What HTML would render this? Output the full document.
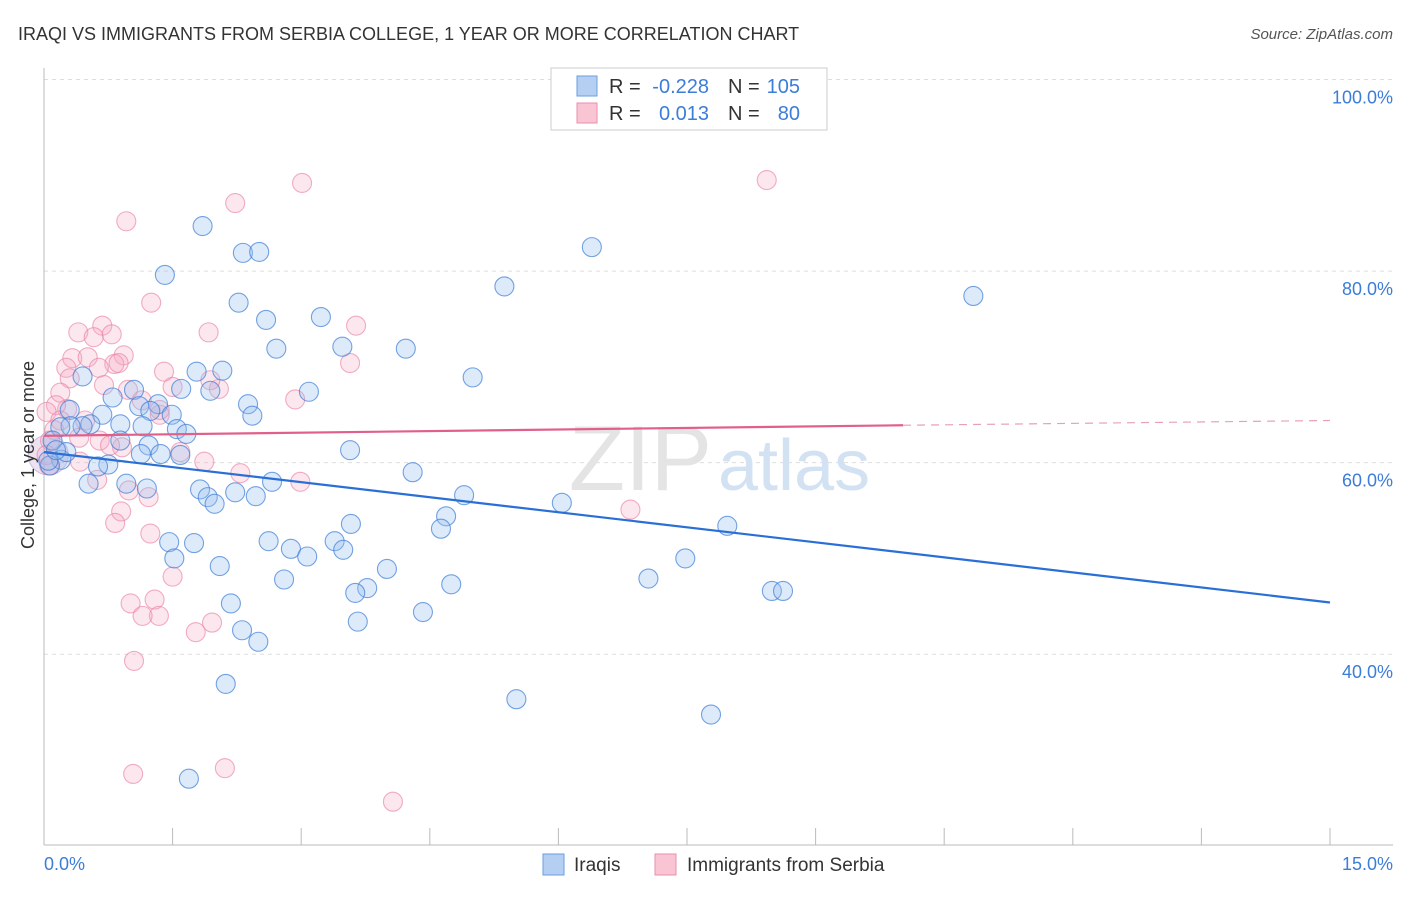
<!DOCTYPE html>
<html><head><meta charset="utf-8"><style>
body{margin:0;background:#fff;font-family:"Liberation Sans",sans-serif}
svg text{font-family:"Liberation Sans",sans-serif}
</style></head><body>
<svg id="chart" width="1406" height="892" viewBox="0 0 1406 892" xmlns="http://www.w3.org/2000/svg">
<text x="18" y="40" font-size="18" fill="#333">IRAQI VS IMMIGRANTS FROM SERBIA COLLEGE, 1 YEAR OR MORE CORRELATION CHART</text>
<text x="1393" y="39" font-size="15" fill="#555" font-style="italic" text-anchor="end">Source: ZipAtlas.com</text>
<g id="grid"></g>
<text x="712" y="490" font-size="92" fill="#e4e4e4" text-anchor="end" font-family="Liberation Serif">ZIP</text>
<text x="718" y="490" font-size="72" fill="#d3e2f3">atlas</text>
<g id="pts"></g>
<g id="lines"></g>
<text x="34" y="455" font-size="18" fill="#333" text-anchor="middle" transform="rotate(-90 34 455)">College, 1 year or more</text>
<text x="44" y="870" font-size="18" fill="#3b7dd8">0.0%</text>
<text x="1393" y="870" font-size="18" fill="#3b7dd8" text-anchor="end">15.0%</text>
<g>
<rect x="551" y="68" width="276" height="62" fill="#fff" stroke="#ccc"/>
<rect x="577" y="76" width="20" height="20" fill="#b5cff3" stroke="#6a9ee0"/>
<rect x="577" y="103" width="20" height="20" fill="#f9c4d4" stroke="#ea8fab"/>
<text x="609" y="93" font-size="20" fill="#333">R =</text>
<text x="709" y="93" font-size="20" fill="#3b7dd8" text-anchor="end">-0.228</text>
<text x="728" y="93" font-size="20" fill="#333">N =</text>
<text x="800" y="93" font-size="20" fill="#3b7dd8" text-anchor="end">105</text>
<text x="609" y="120" font-size="20" fill="#333">R =</text>
<text x="709" y="120" font-size="20" fill="#3b7dd8" text-anchor="end">0.013</text>
<text x="728" y="120" font-size="20" fill="#333">N =</text>
<text x="800" y="120" font-size="20" fill="#3b7dd8" text-anchor="end">80</text>
</g>
<g>
<rect x="543" y="854" width="21" height="21" fill="#b5cff3" stroke="#6a9ee0"/>
<text x="574" y="871" font-size="19" fill="#333">Iraqis</text>
<rect x="655" y="854" width="21" height="21" fill="#f9c4d4" stroke="#ea8fab"/>
<text x="687" y="871" font-size="19" fill="#333">Immigrants from Serbia</text>
</g>
</svg>
<script>
const yTicks=[100,80,60,40];
const yTickLabels=["100.0%","80.0%","60.0%","40.0%"];
const xTicks=[0,1.5,3,4.5,6,7.5,9,10.5,12,13.5,15];
const blueX=[1.85,2.32,2.51,1.41,6.39,5.37,10.84,2.27,2.59,3.23,2.71,3.48,4.22,1.78,2.08,5.00,3.09,1.94,1.60,1.05,0.45,2.38,2.43,1.33,1.11,0.80,1.49,1.24,0.68,0.30,0.89,0.54,0.45,0.31,0.19,1.55,1.66,1.15,3.57,1.59,1.22,1.36,1.13,0.89,0.10,0.20,0.26,0.75,0.63,4.30,0.52,0.96,1.20,1.82,1.91,1.99,2.23,2.47,2.66,4.90,4.69,4.63,6.04,7.97,3.58,2.62,2.88,3.07,3.39,3.49,1.75,1.46,1.52,2.05,4.00,2.80,3.77,3.63,4.75,7.05,7.48,8.49,8.62,4.42,3.66,2.18,2.31,2.50,2.12,5.51,7.78,1.69,0.07,0.05,0.14];
const blueY=[84.7,81.9,82.0,79.6,82.5,78.4,77.4,76.7,74.9,75.2,71.9,72.1,71.9,69.5,69.6,68.9,67.4,67.5,67.7,67.6,69.0,66.1,64.9,66.1,65.9,66.8,65.0,65.4,65.0,65.5,64.0,64.0,63.8,63.8,63.7,63.5,63.0,63.8,61.3,60.8,61.8,60.9,60.9,62.3,62.3,60.3,61.1,59.8,59.6,59.0,57.8,57.8,57.3,57.2,56.4,55.7,56.9,56.5,58.0,56.6,54.4,53.1,55.8,53.4,53.6,51.8,51.0,50.2,51.8,50.9,51.6,51.7,50.0,49.2,48.9,47.8,46.9,46.4,47.3,47.9,50.0,46.6,46.6,44.4,43.4,45.3,42.5,41.3,36.9,35.3,33.7,27.0,59.7,60.2,61.3];
const pinkX=[0.96,2.23,3.01,8.43,1.25,0.68,0.40,0.58,0.79,1.92,3.64,0.33,0.51,0.93,0.82,0.26,0.30,0.70,0.64,1.40,0.87,3.57,2.04,2.93,0.98,1.50,1.14,0.19,0.27,0.14,0.03,0.41,0.65,0.91,0.42,1.59,1.87,2.29,2.99,0.62,0.99,1.22,0.90,0.83,1.24,6.84,1.50,1.01,1.29,1.34,1.15,1.77,1.96,1.05,1.04,2.11,4.07,0.12,0.07,0.03,0.06,0.19,0.48,0.77,1.35,1.94,1.35];
const pinkY=[85.2,87.1,89.2,89.5,76.7,74.3,73.6,73.1,73.4,73.6,74.3,70.9,71.0,71.2,70.3,69.9,68.8,68.1,69.9,69.5,70.4,70.4,67.7,66.6,67.6,67.9,66.5,67.3,65.6,66.0,65.3,62.6,62.3,61.6,60.1,61.1,60.1,58.9,58.0,58.2,57.1,56.4,54.9,53.7,52.6,55.1,48.1,45.3,45.7,44.0,44.0,42.3,43.3,39.3,27.5,28.1,24.6,63.4,62.3,60.8,59.7,64.4,64.4,61.8,65.0,68.6,65.5];
const blueTrendX=[0,15];
const blueTrendY=[61.1,45.4];
const pinkTrendX=[0,10.02,15];
const pinkTrendY=[62.8,63.9,64.4];

const NS="http://www.w3.org/2000/svg";
const X0=44,X1=1330,YT=79.5,YB=654.2;
function sx(v){return X0+(v/15)*(X1-X0);}
function sy(v){return YT+(100-v)*(YB-YT)/60;}
function mk(tag,attrs,parent){const e=document.createElementNS(NS,tag);for(const k in attrs)e.setAttribute(k,attrs[k]);parent.appendChild(e);return e;}
const grid=document.getElementById('grid');
yTicks.forEach((t,i)=>{
  const l=mk('line',{x1:X0,x2:1393,y1:sy(t),y2:sy(t),stroke:'#ddd','stroke-dasharray':'4,4'},grid);
  
  
  const tx=mk('text',{x:1393,y:sy(t)+24,'font-size':18,fill:'#3b7dd8','text-anchor':'end'},grid);
  tx.textContent=yTickLabels[i];
  
  
});
const ax=mk('line',{x1:X0,x2:X0,y1:68,y2:845,stroke:'#bbb'},grid);


const bx=mk('line',{x1:X0,x2:1393,y1:845,y2:845,stroke:'#bbb'},grid);


xTicks.forEach(t=>{
  const l=mk('line',{x1:sx(t),x2:sx(t),y1:828,y2:845,stroke:'#bbb'},grid);
  
  
});
const pts=document.getElementById('pts');
const big=mk('circle',{cx:sx(0.05),cy:sy(60.8),r:20,fill:'rgba(200,160,210,0.3)',stroke:'rgba(160,140,210,0.5)'},pts);


pinkX.forEach((v,i)=>{
  const c=mk('circle',{cx:sx(v),cy:sy(pinkY[i]),r:9.5,fill:'rgba(246,170,195,0.28)',stroke:'rgba(234,130,165,0.65)','stroke-width':1.1},pts);
  
  
});
blueX.forEach((v,i)=>{
  const c=mk('circle',{cx:sx(v),cy:sy(blueY[i]),r:9.5,fill:'rgba(150,190,240,0.32)',stroke:'rgba(60,125,215,0.7)','stroke-width':1.1},pts);
  
  
});
const lines=document.getElementById('lines');
const bl=mk('line',{x1:sx(blueTrendX[0]),y1:sy(blueTrendY[0]),x2:sx(blueTrendX[1]),y2:sy(blueTrendY[1]),stroke:'#2a6fd6','stroke-width':2.2},lines);


const pl=mk('line',{x1:sx(pinkTrendX[0]),y1:sy(pinkTrendY[0]),x2:sx(pinkTrendX[1]),y2:sy(pinkTrendY[1]),stroke:'#e0608a','stroke-width':2.2},lines);


const pd=mk('line',{x1:sx(pinkTrendX[1]),y1:sy(pinkTrendY[1]),x2:sx(pinkTrendX[2]),y2:sy(pinkTrendY[2]),stroke:'#e8a0b8','stroke-width':1.2,'stroke-dasharray':'8,6'},lines);


</script>
</body></html>
